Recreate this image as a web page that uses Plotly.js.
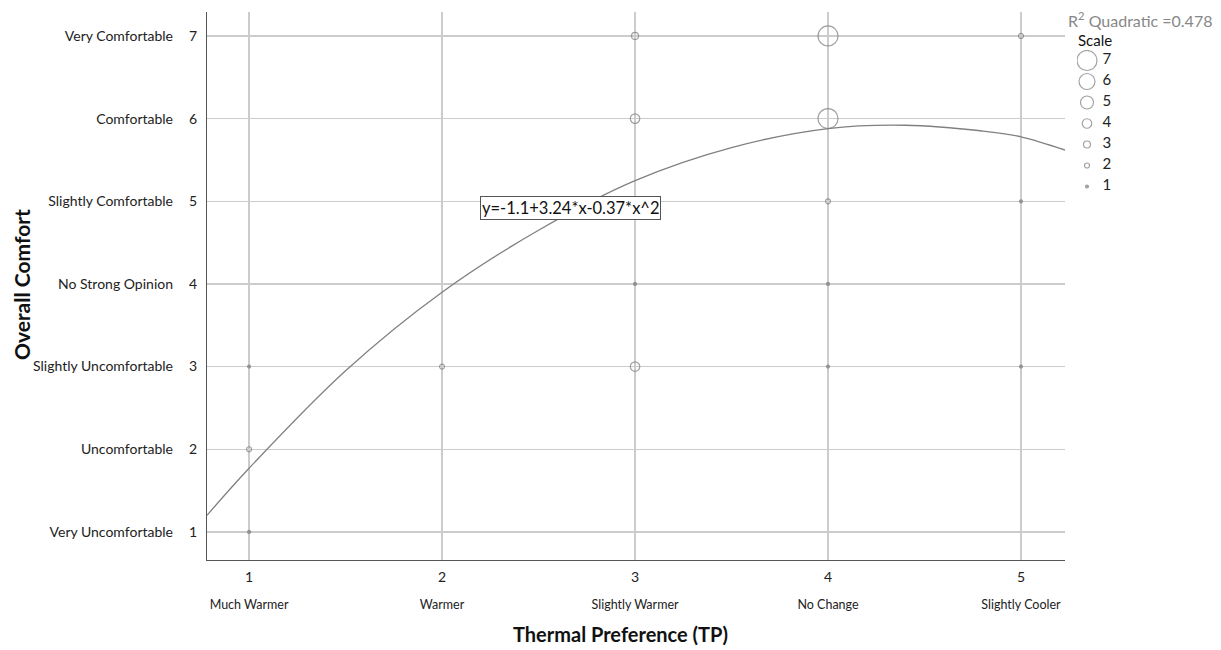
<!DOCTYPE html>
<html>
<head>
<meta charset="utf-8">
<script src="https://cdn.plot.ly/plotly-3.0.1.min.js"></script>
<style>html,body{margin:0;padding:0;background:#fff;}</style>
</head>
<body>
<div id="chart" style="width:1221px;height:650px;"></div>
<script>
// Data
var tpX    = [1, 1, 1, 2, 3, 3, 3, 3, 4, 4, 4, 4, 4, 5, 5, 5];
var ocY    = [1, 2, 3, 3, 3, 4, 6, 7, 3, 4, 5, 6, 7, 3, 5, 7];
var counts = [1, 2, 1, 2, 4, 1, 4, 3, 1, 1, 2, 7, 7, 1, 1, 2];

var xTickVals  = [1, 2, 3, 4, 5];
var xTickNums  = ['1', '2', '3', '4', '5'];
var xTickNames = ['Much Warmer', 'Warmer', 'Slightly Warmer', 'No Change', 'Slightly Cooler'];
var yTickVals  = [1, 2, 3, 4, 5, 6, 7];
var yTickNums  = ['1', '2', '3', '4', '5', '6', '7'];
var yTickNames = ['Very Uncomfortable', 'Uncomfortable', 'Slightly Uncomfortable', 'No Strong Opinion',
                  'Slightly Comfortable', 'Comfortable', 'Very Comfortable'];

// Quadratic fit curve
var fitX = [0.782, 1.0, 1.5, 2.0, 2.5, 3.0, 3.5, 4.0, 4.4, 4.8, 5.0, 5.228];
var fitY = [1.2, 1.77, 2.95, 3.9, 4.65, 5.25, 5.65, 5.88, 5.92, 5.85, 5.78, 5.62];

var fitEquation = 'y=-1.1+3.24*x-0.37*x^2';
var rSquared = '0.478';
var xTitle = 'Thermal Preference (TP)';
var yTitle = 'Overall Comfort';
var scaleLevels = [7, 6, 5, 4, 3, 2, 1];

// Styles
var sizeMap = [0, 3, 5, 7, 9.5, 13, 16, 20];
var markColor = '#7a7a7a';
var font = 'Lato, "Open Sans", sans-serif';

function sym(c) { return c === 1 ? 'circle' : 'circle-open'; }

var traces = [
  {
    x: fitX, y: fitY, type: 'scatter', mode: 'lines',
    line: {color: '#808080', width: 1.3, shape: 'spline', smoothing: 1},
    hoverinfo: 'skip', showlegend: false
  },
  {
    x: tpX, y: ocY, type: 'scatter', mode: 'markers',
    marker: {
      size: counts.map(function(c){ return sizeMap[c]; }),
      symbol: counts.map(sym),
      color: markColor,
      line: {color: markColor, width: 1.2}
    },
    showlegend: false
  },
  {
    x: [3], y: [4], xaxis: 'x2', yaxis: 'y2', type: 'scatter', mode: 'markers',
    marker: {opacity: 0}, hoverinfo: 'skip', showlegend: false
  },
  {
    x: scaleLevels.map(function(){ return 0.25; }), y: scaleLevels,
    xaxis: 'x3', yaxis: 'y3', type: 'scatter', mode: 'markers',
    marker: {
      size: scaleLevels.map(function(c){ return sizeMap[c]; }),
      symbol: scaleLevels.map(sym),
      color: markColor,
      line: {color: markColor, width: 1.2}
    },
    hoverinfo: 'skip', showlegend: false
  },
  {
    x: scaleLevels.map(function(){ return 0.64; }), y: scaleLevels,
    text: scaleLevels.map(String),
    xaxis: 'x3', yaxis: 'y3', type: 'scatter', mode: 'text',
    textposition: 'middle right',
    textfont: {family: font, size: 15, color: '#222'},
    hoverinfo: 'skip', showlegend: false
  }
];

var mainDomainR = 858 / 1014;
function px2paperX(px) { return (px - 207) / 1014; }
function px2paperY(py) { return (560 - py) / 548; }

var layout = {
  width: 1221, height: 650,
  margin: {l: 207, r: 0, t: 12, b: 90},
  paper_bgcolor: '#ffffff', plot_bgcolor: '#ffffff',
  font: {family: font, size: 12, color: '#222'},
  showlegend: false,
  xaxis: {
    domain: [0, mainDomainR],
    range: [0.782, 5.228],
    tickvals: xTickVals, ticktext: xTickNums,
    ticks: '', showgrid: true, gridcolor: '#cccccc', gridwidth: 1.3,
    zeroline: false, showline: true, linecolor: '#555555', linewidth: 1.2,
    tickfont: {family: font, size: 14, color: '#222'},
    ticklabelstandoff: 4,
    automargin: false
  },
  yaxis: {
    range: [0.66, 7.29],
    tickvals: yTickVals, ticktext: yTickNums,
    ticks: '', showgrid: true, gridcolor: '#cccccc', gridwidth: 1.3,
    zeroline: false, showline: true, linecolor: '#555555', linewidth: 1.2,
    tickfont: {family: font, size: 14, color: '#222'},
    ticklabelstandoff: 6,
    automargin: false
  },
  xaxis2: {
    overlaying: 'x', matches: 'x', anchor: 'y2', side: 'bottom',
    range: [0.782, 5.228],
    tickvals: xTickVals, ticktext: xTickNames,
    ticks: '', showgrid: false, zeroline: false, showline: false,
    tickfont: {family: font, size: 12.5, color: '#222'},
    ticklabelstandoff: 35
  },
  yaxis2: {
    overlaying: 'y', matches: 'y', anchor: 'x2', side: 'left',
    range: [0.66, 7.29],
    tickvals: yTickVals, ticktext: yTickNames,
    ticks: '', showgrid: false, zeroline: false, showline: false,
    tickfont: {family: font, size: 14, color: '#222'},
    ticklabelstandoff: 33
  },
  xaxis3: {
    domain: [px2paperX(1077), px2paperX(1117)], range: [0, 1], anchor: 'y3',
    visible: false, fixedrange: true
  },
  yaxis3: {
    domain: [px2paperY(197), px2paperY(50)], range: [0.5, 7.5], anchor: 'x3',
    visible: false, fixedrange: true
  },
  annotations: [
    {
      x: 2.663, y: 4.92, xref: 'x', yref: 'y', text: fitEquation, showarrow: false,
      font: {family: font, size: 16.5, color: '#111'},
      bgcolor: '#ffffff', bordercolor: '#555555', borderwidth: 1, borderpad: 1
    },
    {
      x: px2paperX(1066), y: px2paperY(20), xref: 'paper', yref: 'paper',
      xanchor: 'left', yanchor: 'middle', showarrow: false,
      text: 'R<sup>2</sup> Quadratic =' + rSquared,
      font: {family: font, size: 16, color: '#888888'}
    },
    {
      x: px2paperX(1076), y: px2paperY(40), xref: 'paper', yref: 'paper',
      xanchor: 'left', yanchor: 'middle', showarrow: false,
      text: 'Scale',
      font: {family: font, size: 15, color: '#111'}
    },
    {
      x: px2paperX(620), y: px2paperY(634), xref: 'paper', yref: 'paper',
      xanchor: 'center', yanchor: 'middle', showarrow: false,
      text: '<b>' + xTitle + '</b>',
      font: {family: font, size: 20, color: '#111'}
    },
    {
      x: px2paperX(21), y: px2paperY(285), xref: 'paper', yref: 'paper',
      xanchor: 'center', yanchor: 'middle', showarrow: false, textangle: -90,
      text: '<b>' + yTitle + '</b>',
      font: {family: font, size: 21, color: '#111'}
    }
  ]
};

Plotly.newPlot('chart', traces, layout, {displayModeBar: false, staticPlot: true});
</script>
</body>
</html>
